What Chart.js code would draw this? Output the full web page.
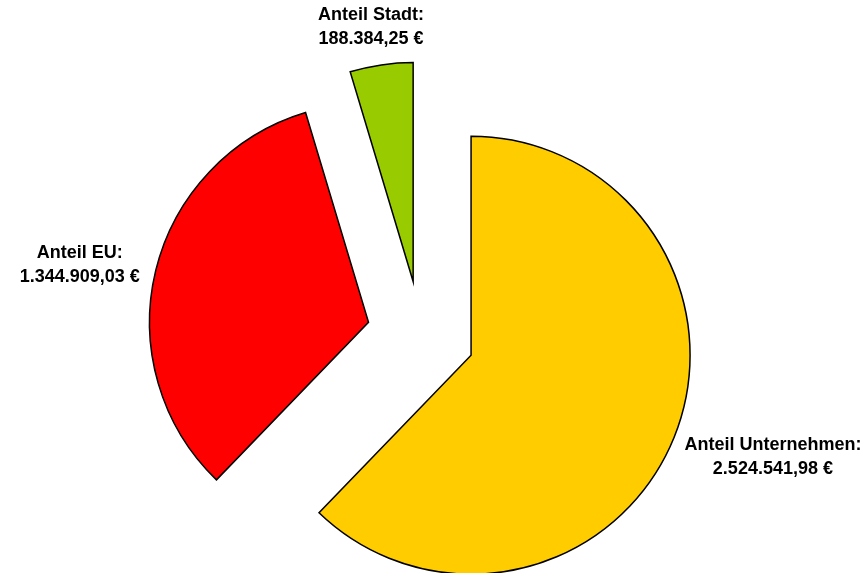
<!DOCTYPE html>
<html>
<head>
<meta charset="utf-8">
<script src="https://cdn.jsdelivr.net/npm/chart.js@4/dist/chart.umd.min.js"></script>
<style>
  html, body { margin: 0; padding: 0; background: #fff; }
  #chart { display: block; }
</style>
</head>
<body>
<canvas id="chart" width="867" height="573"></canvas>
<script>
// Anteile (Euro)
const labels = ['Anteil Unternehmen', 'Anteil EU', 'Anteil Stadt'];
const values = [2524541.98, 1344909.03, 188384.25];
const colors = ['#FFCC00', '#FF0000', '#99CC00'];

const explode = 54;   // Abstand der Segmente vom Mittelpunkt
const labelGap = 18;  // Abstand Beschriftung zum Kreisrand
const fontSpec = 'bold 18px "Liberation Sans", Arial, sans-serif';

// 1234567.8 -> "1.234.567,80 €"
function formatEuro(v) {
    const parts = v.toFixed(2).split('.');
    const int = parts[0].replace(/\B(?=(\d{3})+(?!\d))/g, '.');
    return int + ',' + parts[1] + ' €';
}

// schiebt jedes Segment entlang seiner Winkelhalbierenden nach außen
const explodePlugin = {
    id: 'explode',
    afterDatasetsUpdate(chart) {
        chart.getDatasetMeta(0).data.forEach(arc => {
            const mid = (arc.startAngle + arc.endAngle) / 2;
            arc.x += Math.cos(mid) * explode;
            arc.y += Math.sin(mid) * explode;
        });
    }
};

// Beschriftungen außerhalb der Segmente
const labelPlugin = {
    id: 'outsideLabels',
    afterDatasetsDraw(chart) {
        const ctx = chart.ctx;
        const meta = chart.getDatasetMeta(0);
        ctx.save();
        ctx.font = fontSpec;
        ctx.fillStyle = '#000';
        ctx.textAlign = 'center';
        ctx.textBaseline = 'middle';
        const lineH = 24;
        meta.data.forEach((arc, i) => {
            const lines = [labels[i] + ':', formatEuro(values[i])];
            const w = Math.max(...lines.map(t => ctx.measureText(t).width));
            const h = lineH * lines.length;
            const mid = (arc.startAngle + arc.endAngle) / 2;
            const dx = Math.cos(mid), dy = Math.sin(mid);
            const px = arc.x + dx * (arc.outerRadius + labelGap);
            const py = arc.y + dy * (arc.outerRadius + labelGap);
            const cx = px + dx * w / 2;
            const cy = py + dy * h / 2 + 4;
            lines.forEach((t, j) => {
                ctx.fillText(t, cx, cy - h / 2 + lineH * (j + 0.5));
            });
        });
        ctx.restore();
    }
};

new Chart(document.getElementById('chart'), {
    type: 'pie',
    data: {
        labels: labels,
        datasets: [{
            data: values,
            backgroundColor: colors,
            borderColor: '#000',
            borderWidth: 1.5,
            borderJoinStyle: 'miter'
        }]
    },
    options: {
        responsive: false,
        animation: false,
        radius: 219,
        layout: { padding: { top: 97, bottom: 0, left: 0, right: 25 } },
        plugins: {
            legend: { display: false },
            tooltip: { enabled: false }
        }
    },
    plugins: [explodePlugin, labelPlugin]
});
</script>
</body>
</html>
